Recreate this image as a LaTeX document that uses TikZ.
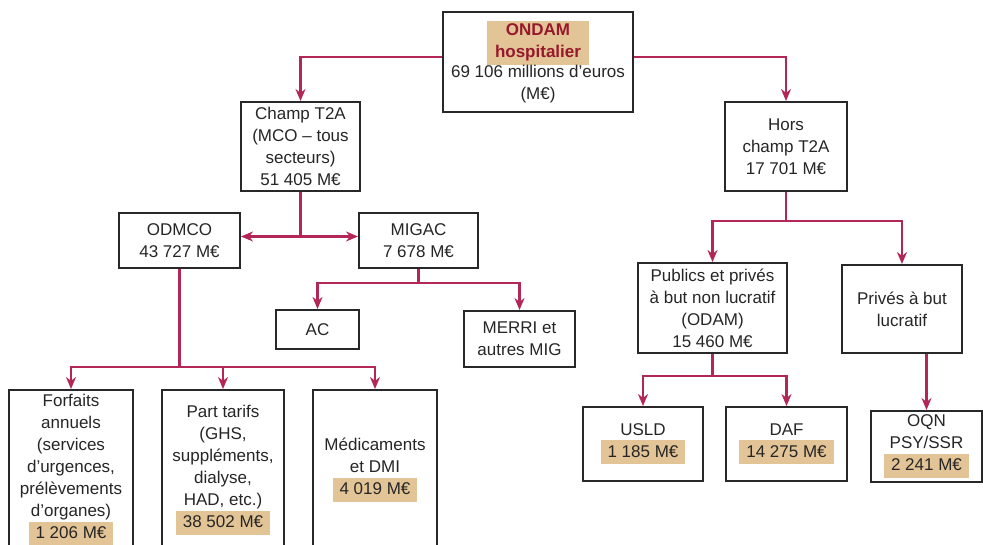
\documentclass[tikz,border=0pt]{standalone}
\usepackage{fontspec}
\setmainfont{Liberation Sans}
\usetikzlibrary{arrows.meta}

\definecolor{linkred}{RGB}{178,38,88}
\definecolor{hltan}{RGB}{226,196,150}
\definecolor{ondamred}{RGB}{150,25,45}
\definecolor{boxgray}{RGB}{40,40,40}

\newcommand{\hlbox}[1]{{\setlength{\fboxsep}{0pt}\colorbox{hltan}{\rule[-7pt]{0pt}{24pt}\hspace{7pt}#1\hspace{7pt}}}}

\tikzset{
  box/.style={draw=boxgray, line width=2pt, rectangle, align=center, inner sep=0pt,
    font=\fontsize{17}{22}\selectfont, text=black!85},
  link/.style={draw=linkred, line width=2.2pt},
}

\begin{document}
\begin{tikzpicture}[x=1pt, y=-1pt, >={Stealth[length=12pt,width=10pt]}]
	\clip (0,0) rectangle (983,545);
	\fill[white] (0,0) rectangle (983,545);
	
	% Top
	\node[box, minimum width=190pt, minimum height=100pt] (ondam) at (538,62)
		{{\setlength{\fboxsep}{0pt}\colorbox{hltan}{\begin{tabular}{@{\hspace{8pt}}c@{\hspace{8pt}}}\textbf{\textcolor{ondamred}{ONDAM}}\\\textbf{\textcolor{ondamred}{hospitalier}}\end{tabular}}}\\69 106 millions d'euros\\(M€)};
	
	% Second level
	\node[box, minimum width=119pt, minimum height=89pt] (champ) at (300.5,146.5) {Champ T2A\\(MCO – tous\\secteurs)\\51 405 M€};
	\node[box, minimum width=122pt, minimum height=89pt] (hors) at (786,146.5) {Hors\\champ T2A\\17 701 M€};
	
	% Champ T2A branch
	\node[box, minimum width=121pt, minimum height=55pt] (odmco) at (179.5,240.5) {ODMCO\\43 727 M€};
	\node[box, minimum width=119pt, minimum height=55pt] (migac) at (418.5,240.5) {MIGAC\\7 678 M€};
	\node[box, minimum width=83pt, minimum height=39pt] (ac) at (317.5,329.5) {AC};
	\node[box, minimum width=111pt, minimum height=56pt] (merri) at (519.5,339) {MERRI et\\autres MIG};
	\node[box, minimum width=124pt, minimum height=160pt] (forfaits) at (71,470)
		{Forfaits\\annuels\\(services\\d'urgences,\\prélèvements\\d'organes)\\\hlbox{1 206 M€}};
	\node[box, minimum width=122pt, minimum height=160pt] (part) at (223,470)
		{Part tarifs\\(GHS,\\suppléments,\\dialyse,\\HAD, etc.)\\\hlbox{38 502 M€}};
	\node[box, minimum width=124pt, minimum height=160pt] (medic) at (375,470)
		{Médicaments\\et DMI\\\hlbox{4 019 M€}};
	
	% Hors champ branch
	\node[box, minimum width=149pt, minimum height=90pt] (publics) at (712.5,308) {Publics et privés\\à but non lucratif\\(ODAM)\\15 460 M€};
	\node[box, minimum width=120pt, minimum height=88pt] (prives) at (902,309) {Privés à but\\lucratif};
	\node[box, minimum width=120pt, minimum height=74pt] (usld) at (643,444) {USLD\\\hlbox{1 185 M€}};
	\node[box, minimum width=121pt, minimum height=74pt] (daf) at (786.5,444) {DAF\\\hlbox{14 275 M€}};
	\node[box, minimum width=111pt, minimum height=71pt] (oqn) at (926.5,446.5) {OQN\\PSY/SSR\\\hlbox{2 241 M€}};
	
	% Links from the top
	\draw[link,->] ([yshift=5pt]ondam.west) -| (champ.north);
	\draw[link,->] ([yshift=5pt]ondam.east) -| (hors.north);
	
	% Links below Champ T2A
	\coordinate (c1) at ([yshift=4pt]champ.south |- odmco.east);
	\draw[link] (champ.south) -- (c1);
	\draw[link,->] (c1) -- (c1 -| odmco.east);
	\draw[link,->] (c1) -- (c1 -| migac.west);
	
	\coordinate (c2) at (418.5,283);
	\draw[link] (migac.south) -- (c2);
	\draw[link,->] (c2) -| (ac.north);
	\draw[link,->] (c2) -| (merri.north);
	
	\coordinate (c3) at (179.5,367);
	\draw[link] (odmco.south) -- (c3);
	\foreach \n in {forfaits,part,medic} {
		\draw[link,->] (c3) -| (\n.north);
	}
	
	% Links below Hors champ
	\coordinate (c4) at (786,221);
	\draw[link] (hors.south) -- (c4);
	\draw[link,->] (c4) -| (publics.north);
	\draw[link,->] (c4) -| (prives.north);
	
	\coordinate (c5) at (712.5,376);
	\draw[link] (publics.south) -- (c5);
	\draw[link,->] (c5) -| (usld.north);
	\draw[link,->] (c5) -| (daf.north);
	
	\draw[link,->] (prives.south -| oqn.north) -- (oqn.north);
\end{tikzpicture}
\end{document}
